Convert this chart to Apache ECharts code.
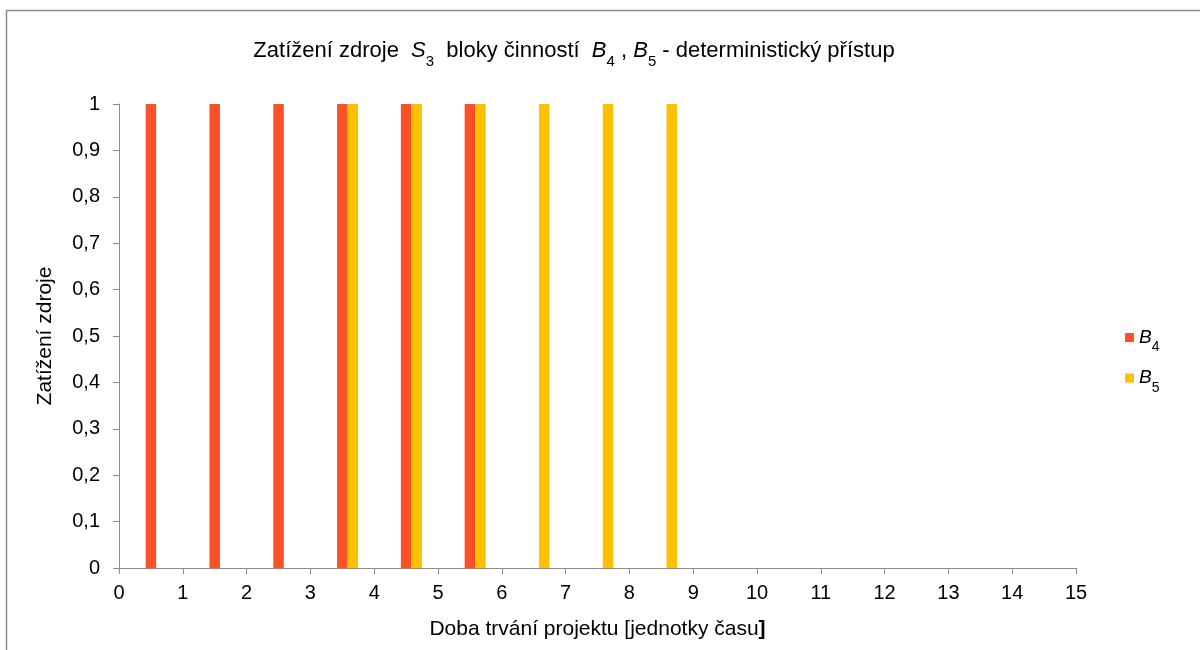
<!DOCTYPE html>
<html>
<head>
<meta charset="utf-8">
<script src="https://cdn.jsdelivr.net/npm/echarts@6/dist/echarts.min.js"></script>
<style>
  html, body { margin: 0; padding: 0; background: #fff; }
  #chart { width: 1200px; height: 650px; }
</style>
</head>
<body>
<div id="chart"></div>
<script>
// time slots 1..15 (bars sit between ticks 0..15)
const categories = ['1', '2', '3', '4', '5', '6', '7', '8', '9', '10', '11', '12', '13', '14', '15'];
const b4Values = [1, 1, 1, 1, 1, 1, 0, 0, 0, 0, 0, 0, 0, 0, 0];
const b5Values = [0, 0, 0, 1, 1, 1, 1, 1, 1, 0, 0, 0, 0, 0, 0];
const xTicks = [0, 15, 1];     // min, max, step of the labelled time axis
const yTicks = [0, 1, 0.1];

const FONT = 'Liberation Sans, Arial, sans-serif';
const chart = echarts.init(document.getElementById('chart'));

// text with subscripts: main tokens centred in a tall line, subscript pushed to its bottom
function richSet(main, sub, line) {
  return {
    t: { fontSize: main, fontFamily: FONT, color: '#000', fontWeight: 'normal', lineHeight: line },
    i: { fontSize: main, fontFamily: FONT, color: '#000', fontWeight: 'normal', fontStyle: 'italic', lineHeight: line },
    s: { fontSize: sub, fontFamily: FONT, color: '#000', fontWeight: 'normal', verticalAlign: 'bottom' }
  };
}

const option = {
  animation: false,
  backgroundColor: '#fff',
  title: {
    text: '{t|Zatížení zdroje  }{i|S}{s|3}{t|  bloky činností  }{i|B}{s|4}{t| , }{i|B}{s|5}{t| - deterministický přístup}',
    left: 569,
    textAlign: 'center',
    top: 28,
    textStyle: { fontWeight: 'normal', rich: richSet(22, 15, 36) }
  },
  legend: {
    orient: 'vertical',
    left: 1120,
    top: 323,
    itemWidth: 9,
    itemHeight: 9,
    itemGap: 14,
    icon: 'rect',
    data: ['B4', 'B5'],
    formatter: function (name) {
      return '{i|B}{s|' + name.slice(1) + '}';
    },
    textStyle: { rich: richSet(19, 14, 34) }
  },
  grid: {
    left: 119,
    right: 124,
    top: 104,
    bottom: 82
  },
  xAxis: [
    {
      type: 'category',
      data: categories,
      show: false
    },
    {
      type: 'value',
      position: 'bottom',
      min: xTicks[0],
      max: xTicks[1],
      interval: xTicks[2],
      name: '{n|Doba trvání projektu [jednotky času}{b|]}',
      nameLocation: 'middle',
      nameGap: 51,
      nameTextStyle: {
        fontSize: 21, fontFamily: FONT, color: '#000',
        rich: {
          n: { fontSize: 21, fontFamily: FONT, color: '#000' },
          b: { fontSize: 21, fontFamily: FONT, color: '#000', fontWeight: 'bold' }
        }
      },
      axisLine: { lineStyle: { color: '#8c8c8c' } },
      axisTick: { length: 6, lineStyle: { color: '#8c8c8c' } },
      axisLabel: { fontSize: 20, fontFamily: FONT, color: '#000', margin: 15 },
      splitLine: { show: false }
    }
  ],
  yAxis: {
    type: 'value',
    min: yTicks[0],
    max: yTicks[1],
    interval: yTicks[2],
    name: 'Zatížení zdroje',
    nameLocation: 'middle',
    nameGap: 63,
    nameRotate: 90,
    nameTextStyle: { fontSize: 21, fontFamily: FONT, color: '#000' },
    axisLine: { show: true, lineStyle: { color: '#8c8c8c' } },
    axisTick: { show: true, length: 6, lineStyle: { color: '#8c8c8c' } },
    axisLabel: {
      fontSize: 20, fontFamily: FONT, color: '#000', margin: 19,
      formatter: function (v) { return String(Math.round(v * 10) / 10).replace('.', ','); }
    },
    splitLine: { show: false }
  },
  series: [
    {
      // empty slot so that B4 sits centred and B5 right next to it
      name: '_',
      type: 'bar',
      barWidth: 10.5,
      barGap: '0%',
      data: categories.map(function () { return null; })
    },
    {
      name: 'B4',
      type: 'bar',
      barWidth: 10.5,
      barGap: '0%',
      itemStyle: { color: '#ff5127' },
      data: b4Values
    },
    {
      name: 'B5',
      type: 'bar',
      barWidth: 10.5,
      barGap: '0%',
      itemStyle: { color: '#ffc000' },
      data: b5Values
    }
  ],
  graphic: [
    {
      type: 'rect',
      shape: { x: 6.5, y: 10.5, width: 1300, height: 1000 },
      style: { fill: null, stroke: '#8c8c8c', lineWidth: 1.5 },
      silent: true
    }
  ]
};

chart.setOption(option);
</script>
</body>
</html>
